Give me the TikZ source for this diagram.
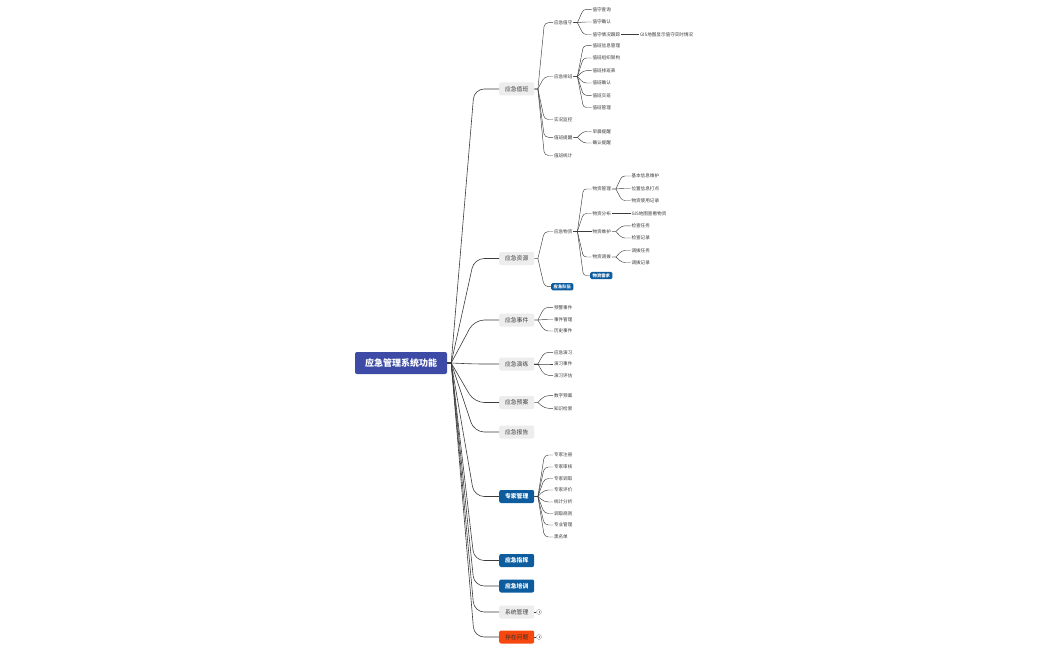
\documentclass[tikz,border=0pt]{standalone}
\usepackage{fontspec}
\setmainfont{Noto Sans CJK SC}
\usetikzlibrary{calc}
\definecolor{rootc}{HTML}{3D4BA6}
\definecolor{bluec}{HTML}{0D5C9E}
\definecolor{grayc}{HTML}{EDEDED}
\definecolor{redc}{HTML}{F5470E}
\definecolor{textc}{HTML}{3A3A3A}
\definecolor{linec}{HTML}{3C3C3C}
\tikzset{
 conn/.style={draw=linec, line width=0.45pt},
 rconn/.style={draw=linec, line width=0.6pt},
 rootbox/.style={fill=rootc, rounded corners=2pt, text=white, font=\fontsize{9}{9}\selectfont\bfseries, minimum width=92pt, minimum height=22pt, inner sep=0pt},
 lone/.style={anchor=west, fill=grayc, rounded corners=2pt, text=textc, font=\fontsize{5.8}{6}\selectfont, minimum width=35pt, minimum height=13pt, inner sep=0pt},
 loneb/.style={lone, fill=bluec, text=white, font=\fontsize{5.8}{6}\selectfont\bfseries},
 loner/.style={lone, fill=redc, text=black!80},
 leaf/.style={anchor=west, text=textc, font=\fontsize{4.6}{5}\selectfont, inner sep=0.8pt},
 sbox/.style={anchor=west, fill=bluec, text=white, rounded corners=1.5pt, font=\fontsize{4.3}{5}\selectfont\bfseries, inner xsep=2.5pt, inner ysep=1.6pt},
 foldc/.style={circle, draw=gray!80, fill=white, line width=0.4pt, minimum size=5pt, inner sep=0pt},
}
% #1 style, #2 parent, #3 child, #4 junction offset, #5 corner offset, #6 radius
\newcommand\lk[6]{\draw[#1] let \p1=(#2.east), \p2=(#3.west) in (\p1) -- (\x1+#4,\y1) (\x1+#4,\y1) [rounded corners=#6] -- (\x1+#5,\y2) -- (\p2);}
\newcommand\lr[2]{\lk{rconn}{#1}{#2}{4}{27}{10pt}}
\newcommand\la[2]{\lk{conn}{#1}{#2}{3.5}{10}{4pt}}
\newcommand\lb[2]{\lk{conn}{#1}{#2}{4}{10}{3pt}}
\begin{document}
\begin{tikzpicture}[x=1pt,y=-1pt]
\fill[white] (0,0) rectangle (1050,650);
\useasboundingbox (0,0) rectangle (1050,650);

% root
\node[rootbox] (root) at (401,363) {应急管理系统功能};

% level 1
\node[lone] (n1) at (499,89) {应急值班};
\node[lone] (n2) at (499,258.5) {应急资源};
\node[lone] (n3) at (499,320) {应急事件};
\node[lone] (n4) at (499,364) {应急演练};
\node[lone] (n5) at (499,402.5) {应急预案};
\node[lone] (n6) at (499,432) {应急报告};
\node[loneb] (n7) at (499,496.5) {专家管理};
\node[loneb] (n8) at (499,560.5) {应急指挥};
\node[loneb] (n9) at (499,586) {应急培训};
\node[lone] (n10) at (499,612) {系统管理};
\node[loner] (n11) at (499,637) {存在问题};

\foreach \c in {n1,n2,n3,n4,n5,n6,n7,n8,n9,n10,n11} {\lr{root}{\c}}

% fold markers
\node[foldc] (f10) at (539,612) {};
\node[foldc] (f11) at (539,637) {};
\draw[conn] (n10.east) -- (f10.west);
\draw[conn] (n11.east) -- (f11.west);
\draw[line width=0.35pt, draw=gray] (f10.center) ++(0,-1.2) -- ++(0,2.4);
\draw[line width=0.35pt, draw=gray] (f11.center) ++(0,-1.2) -- ++(0,2.4);

% group A: 应急值班
\node[leaf] (a1) at (553,22.7) {应急值守};
\node[leaf] (a11) at (591.5,9.3) {值守查询};
\node[leaf] (a12) at (591.5,22) {值守确认};
\node[leaf] (a13) at (591.5,34.5) {值守情况跟踪};
\node[leaf] (a131) at (639,34.5) {GIS地图显示值守实时情况};
\node[leaf] (a2) at (553,76.5) {应急排班};
\node[leaf] (a21) at (591.5,45.7) {值班信息管理};
\node[leaf] (a22) at (591.5,58) {值班组织架构};
\node[leaf] (a23) at (591.5,70.7) {值班排班表};
\node[leaf] (a24) at (591.5,83) {值班确认};
\node[leaf] (a25) at (591.5,95.3) {值班交班};
\node[leaf] (a26) at (591.5,107.5) {值班管理};
\node[leaf] (a3) at (553,119.5) {实况监控};
\node[leaf] (a4) at (553,137.3) {值班提醒};
\node[leaf] (a41) at (591.5,131.5) {早晨提醒};
\node[leaf] (a42) at (591.5,143) {确认提醒};
\node[leaf] (a5) at (553,155.5) {值班统计};
\foreach \c in {a1,a2,a3,a4,a5} {\la{n1}{\c}}
\foreach \c in {a11,a12,a13} {\lb{a1}{\c}}
\draw[conn] (a13.east) -- (a131.west);
\foreach \c in {a21,a22,a23,a24,a25,a26} {\lb{a2}{\c}}
\foreach \c in {a41,a42} {\lb{a4}{\c}}

% group B: 应急资源
\node[leaf] (b1) at (553,231.5) {应急物资};
\node[leaf] (b11) at (591.5,189) {物资管理};
\node[leaf] (b111) at (630.5,176) {基本信息维护};
\node[leaf] (b112) at (630.5,188.5) {位置信息打点};
\node[leaf] (b113) at (630.5,200.5) {物资使用记录};
\node[leaf] (b12) at (591.5,213.5) {物资分布};
\node[leaf] (b121) at (630.5,213.5) {GIS地图查看物资};
\node[leaf] (b13) at (591.5,231.5) {物资维护};
\node[leaf] (b131) at (630.5,225.8) {检查任务};
\node[leaf] (b132) at (630.5,238) {检查记录};
\node[leaf] (b14) at (591.5,257) {物资调拨};
\node[leaf] (b141) at (630.5,250.5) {调拨任务};
\node[leaf] (b142) at (630.5,262.5) {调拨记录};
\node[sbox] (b15) at (590,275.5) {物资需求};
\node[sbox] (b2) at (551,286.7) {应急队伍};
\foreach \c in {b1,b2} {\la{n2}{\c}}
\foreach \c in {b11,b12,b13,b14,b15} {\lb{b1}{\c}}
\foreach \c in {b111,b112,b113} {\lb{b11}{\c}}
\draw[conn] (b12.east) -- (b121.west);
\foreach \c in {b131,b132} {\lb{b13}{\c}}
\foreach \c in {b141,b142} {\lb{b14}{\c}}

% group C: 应急事件
\node[leaf] (c1) at (553,307.3) {预警事件};
\node[leaf] (c2) at (553,319.5) {事件管理};
\node[leaf] (c3) at (553,331) {历史事件};
\foreach \c in {c1,c2,c3} {\la{n3}{\c}}

% group D: 应急演练
\node[leaf] (d1) at (553,352.3) {应急演习};
\node[leaf] (d2) at (553,364) {演习事件};
\node[leaf] (d3) at (553,375.3) {演习评估};
\foreach \c in {d1,d2,d3} {\la{n4}{\c}}

% group E: 应急预案
\node[leaf] (e1) at (553,395.7) {数字预案};
\node[leaf] (e2) at (553,408.3) {知识检索};
\foreach \c in {e1,e2} {\la{n5}{\c}}

% group F: 专家管理
\node[leaf] (g1) at (553,455) {专家注册};
\node[leaf] (g2) at (553,467) {专家审核};
\node[leaf] (g3) at (553,478.5) {专家调取};
\node[leaf] (g4) at (553,490) {专家评价};
\node[leaf] (g5) at (553,502) {统计分析};
\node[leaf] (g6) at (553,513.5) {调取规则};
\node[leaf] (g7) at (553,525) {专业管理};
\node[leaf] (g8) at (553,537) {黑名单};
\foreach \c in {g1,g2,g3,g4,g5,g6,g7,g8} {\la{n7}{\c}}
\end{tikzpicture}
\end{document}
